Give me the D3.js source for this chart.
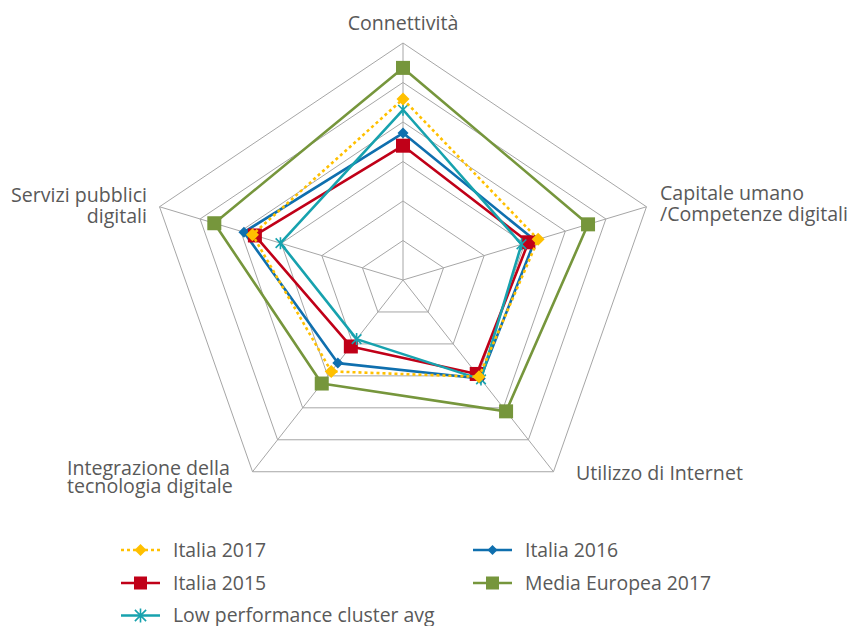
<!DOCTYPE html>
<html>
<head>
<meta charset="utf-8">
<script src="https://cdn.jsdelivr.net/npm/d3@7"></script>
<style>
  html, body { margin: 0; padding: 0; background: #ffffff; }
  svg { display: block; }
  text { font-family: "Open Sans", "Noto Sans", sans-serif; fill: #595959; }
</style>
</head>
<body>
<svg id="chart" width="849" height="626"></svg>
<script>
// ---- data ----
const axes = ["Connettività", "Capitale umano /Competenze digitali", "Utilizzo di Internet", "Integrazione della tecnologia digitale", "Servizi pubblici digitali"];
const seriesNames = ["Italia 2017", "Italia 2016", "Italia 2015", "Media Europea 2017", "Low performance cluster avg"];
const italia2017 = [0.458, 0.333, 0.303, 0.286, 0.371];
const italia2016 = [0.372, 0.325, 0.308, 0.260, 0.392];
const italia2015 = [0.340, 0.309, 0.294, 0.208, 0.365];
const mediaEuropea2017 = [0.537, 0.456, 0.411, 0.324, 0.465];
const lowCluster = [0.431, 0.292, 0.311, 0.185, 0.302];
const gridTicks = [0.1, 0.2, 0.3, 0.4, 0.5, 0.6];

// ---- layout ----
const svg = d3.select("#chart");
const cx = 403, cy = 280;
const rx = d3.scaleLinear().domain([0, 0.6]).range([0, 256]);
const ry = d3.scaleLinear().domain([0, 0.6]).range([0, 237]);
const angle = d3.scalePoint().domain(d3.range(axes.length)).range([0, 2 * Math.PI * (axes.length - 1) / axes.length]);
const px = (i, v) => cx + rx(v) * Math.sin(angle(i));
const py = (i, v) => cy - ry(v) * Math.cos(angle(i));

const grid = svg.append("g");
gridTicks.forEach(t => {
  grid.append("path")
    .attr("d", d3.line()(axes.map((_, i) => [px(i, t), py(i, t)])) + "Z")
    .attr("fill", "none").attr("stroke", "#a6a6a6").attr("stroke-width", 1);
});
axes.forEach((_, i) => {
  grid.append("line")
    .attr("x1", cx).attr("y1", cy)
    .attr("x2", px(i, 0.6)).attr("y2", py(i, 0.6))
    .attr("stroke", "#a6a6a6").attr("stroke-width", 1);
});

// axis labels
const labelDefs = [
  { lines: ["Connettività"], x: 403, y: 30, anchor: "middle", dy: 0 },
  { lines: ["Capitale umano", "/Competenze digitali"], x: 660, y: 199.5, anchor: "start", dy: 21 },
  { lines: ["Utilizzo di Internet"], x: 576, y: 480, anchor: "start", dy: 0 },
  { lines: ["Integrazione della", "tecnologia digitale"], x: 67, y: 475, anchor: "start", dy: 18 },
  { lines: ["Servizi pubblici", "digitali"], x: 147, y: 201.5, anchor: "end", dy: 21.5 }
];
labelDefs.forEach(l => {
  const t = svg.append("text").attr("text-anchor", l.anchor).attr("font-size", 19.6);
  l.lines.forEach((s, k) => t.append("tspan").attr("x", l.x).attr("y", l.y + k * l.dy).text(s));
});

// ---- series ----
const styles = {
  "Italia 2017": { color: "#ffc000", dash: "3,3", marker: "diamond", size: 13 },
  "Italia 2016": { color: "#0f6fae", dash: null, marker: "diamond", size: 11 },
  "Italia 2015": { color: "#c00018", dash: null, marker: "square", size: 14 },
  "Media Europea 2017": { color: "#76963c", dash: null, marker: "square", size: 14 },
  "Low performance cluster avg": { color: "#17a2ae", dash: null, marker: "star", size: 12 }
};
const valuesByName = {
  "Italia 2017": italia2017,
  "Italia 2016": italia2016,
  "Italia 2015": italia2015,
  "Media Europea 2017": mediaEuropea2017,
  "Low performance cluster avg": lowCluster
};

function drawMarker(g, kind, x, y, s, color) {
  const h = s / 2;
  if (kind === "square") {
    g.append("rect").attr("x", x - h).attr("y", y - h).attr("width", s).attr("height", s).attr("fill", color);
  } else if (kind === "diamond") {
    g.append("path").attr("d", `M${x},${y - h}L${x + h},${y}L${x},${y + h}L${x - h},${y}Z`).attr("fill", color);
  } else if (kind === "star") {
    const d = h * 0.8;
    g.append("path")
      .attr("d", `M${x},${y - h}L${x},${y + h}M${x - d},${y - d}L${x + d},${y + d}M${x - d},${y + d}L${x + d},${y - d}`)
      .attr("stroke", color).attr("stroke-width", 1.6).attr("fill", "none");
  }
}

const drawOrder = ["Media Europea 2017", "Italia 2016", "Italia 2015", "Low performance cluster avg", "Italia 2017"];
drawOrder.forEach(name => {
  const st = styles[name];
  const vals = valuesByName[name];
  const g = svg.append("g");
  const pts = vals.map((v, i) => [px(i, v), py(i, v)]);
  g.append("path")
    .attr("d", d3.line()(pts) + "Z")
    .attr("fill", "none").attr("stroke", st.color).attr("stroke-width", 2.6)
    .attr("stroke-linejoin", "round")
    .attr("stroke-dasharray", st.dash);
  pts.forEach(p => drawMarker(g, st.marker, p[0], p[1], st.size, st.color));
});

// ---- legend ----
const legendPos = [
  { name: "Italia 2017", x: 121, y: 550 },
  { name: "Italia 2016", x: 473, y: 550 },
  { name: "Italia 2015", x: 121, y: 583 },
  { name: "Media Europea 2017", x: 473, y: 583 },
  { name: "Low performance cluster avg", x: 121, y: 615.5 }
];
legendPos.forEach(l => {
  const st = styles[l.name];
  const g = svg.append("g");
  g.append("line").attr("x1", l.x).attr("x2", l.x + 39).attr("y1", l.y).attr("y2", l.y)
    .attr("stroke", st.color).attr("stroke-width", 2.6).attr("stroke-dasharray", st.dash);
  drawMarker(g, st.marker, l.x + 19.5, l.y, st.marker === "star" ? 14 : st.size - 1, st.color);
  g.append("text").attr("x", l.x + 52).attr("y", l.y).attr("dy", "0.36em")
    .attr("font-size", 19.4).text(l.name);
});
</script>
</body>
</html>
